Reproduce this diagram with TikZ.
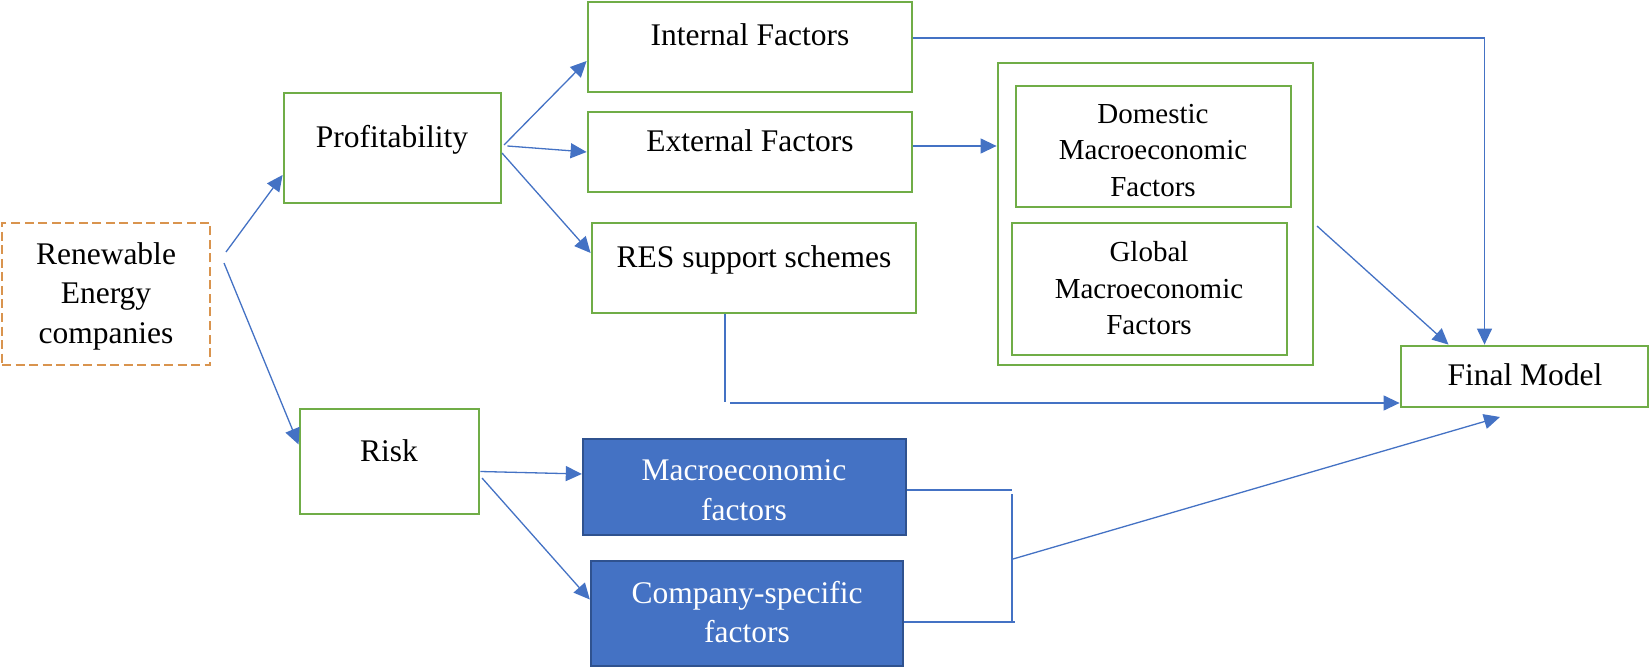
\documentclass[tikz,border=0pt]{standalone}
\usepackage{fontspec}
\setmainfont{Liberation Serif}
\usetikzlibrary{arrows.meta,fit,calc}

\definecolor{boxgreen}{HTML}{70AD47}
\definecolor{lineblue}{HTML}{4472C4}
\definecolor{fillblue}{HTML}{4472C4}
\definecolor{edgeblue}{HTML}{2F528F}
\definecolor{dashorange}{RGB}{217,148,78}

\begin{document}
\begin{tikzpicture}[x=1pt,y=-1pt,
  gbox/.style={draw=boxgreen,line width=2.8pt,inner sep=0pt},
  obox/.style={draw=dashorange,line width=2.8pt,inner sep=0pt,dash pattern=on 9pt off 4.5pt},
  bbox/.style={draw=edgeblue,fill=fillblue,line width=2.4pt,inner sep=0pt},
  txt/.style={font=\fontsize{31.5}{39.5}\selectfont,align=center,inner sep=0pt},
  stxt/.style={font=\fontsize{29}{36.5}\selectfont,align=center,inner sep=0pt},
  wtxt/.style={txt,text=white},
  conn/.style={draw=lineblue,line width=1.3pt},
  arr/.style={conn,-{Triangle[length=16pt,width=15pt]}}
]
\useasboundingbox (0,0) rectangle (1649,668);

% boxes
\node[obox,fit={(2,223) (210,365)}] (ren) {};
\node[gbox,fit={(284,93) (501,203)}] (prof) {};
\node[gbox,fit={(300,409) (479,514)}] (risk) {};
\node[gbox,fit={(588,2) (912,92)}] (int) {};
\node[gbox,fit={(588,112) (912,192)}] (ext) {};
\node[gbox,fit={(592,223) (916,313)}] (res) {};
\node[gbox,fit={(998,63) (1313,365)}] (outer) {};
\node[gbox,fit={(1016,86) (1291,207)}] (dom) {};
\node[gbox,fit={(1012,223) (1287,355)}] (glob) {};
\node[gbox,fit={(1401,346) (1648,407)}] (fin) {};
\node[bbox,fit={(583,439) (906,535)}] (macro) {};
\node[bbox,fit={(591,561) (903,666)}] (comp) {};

% labels
\node[txt] (renT) at (106,296) {Renewable\\Energy\\companies};
\node[txt,anchor=base] (profT) at (392,148) {Profitability};
\node[txt,anchor=base] (riskT) at (389,461) {Risk};
\node[txt,anchor=base] (intT) at (750,46) {Internal Factors};
\node[txt,anchor=base] (extT) at (750,152) {External Factors};
\node[txt,anchor=base] (resT) at (754,268) {RES support schemes};
\node[stxt] (domT) at (1153,150.5) {Domestic\\Macroeconomic\\Factors};
\node[stxt] (globT) at (1149,288.5) {Global\\Macroeconomic\\Factors};
\node[txt,anchor=base] (finT) at (1525,385) {Final Model};
\node[wtxt] (macroT) at (744,490) {Macroeconomic\\factors};
\node[wtxt] (compT) at (747,612) {Company-specific\\factors};

% free ends of connectors
\coordinate (renA) at (226,252);
\coordinate (renB) at (224,263);
\coordinate (profA) at (504,145);
\coordinate (profC) at (502,153);
\coordinate (riskB) at (482,478);
\coordinate (outA) at (1317,226);
\coordinate (intA) at ([yshift=9pt]int.east);
\coordinate (extA) at ([yshift=6pt]ext.east);
\coordinate (resB) at (725,402);
\coordinate (resC) at (730,403);
\coordinate (brTop) at (1012,490);
\coordinate (brUp) at (1012,494);
\coordinate (brLow) at (1012,622);
\coordinate (brEnd) at (1015,622);
\coordinate (brkA) at (1013,559);
\coordinate (finTip) at (1500,417);

% connectors
\draw[arr] (renA) -- ([yshift=-27pt]prof.west);
\draw[arr] (renB) -- ([yshift=17pt]risk.west);
\draw[arr] (profA) -- ([yshift=-14pt]int.west);
\draw[arr] ([xshift=5pt,yshift=2pt]prof.east) -- (ext.west);
\draw[arr] (profC) -- ([yshift=15pt]res.west);
\draw[arr] (intA) -| ([xshift=-40pt]fin.north);
\draw[arr] (extA) -- (extA -| outer.west);
\draw[arr] (outA) -- ([xshift=-76pt]fin.north);
\draw[conn] ([xshift=-29pt]res.south) -- (resB);
\draw[arr] (resC) -- (resC -| fin.west);
\draw[arr] ([yshift=-10pt]risk.east) -- ([yshift=13pt]macro.west);
\draw[arr] (riskB) -- ([yshift=14pt]comp.west);
\draw[conn] ([yshift=-3pt]macro.east) -- (brTop);
\draw[conn] (brUp) -- (brLow);
\draw[conn] ([yshift=-8.5pt]comp.east) -- (brEnd);
\draw[arr] (brkA) -- (finTip);
\end{tikzpicture}
\end{document}
